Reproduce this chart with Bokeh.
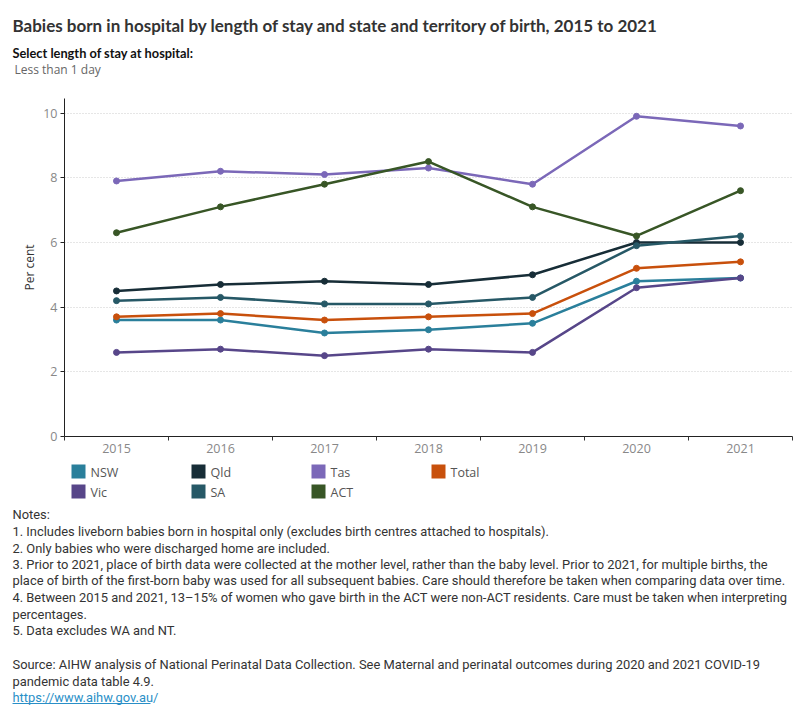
from bokeh.plotting import figure
from bokeh.layouts import column, row
from bokeh.models import Range1d, FixedTicker
from bokeh.core.properties import value
from bokeh.embed import file_html
from bokeh.resources import INLINE

years = [2015, 2016, 2017, 2018, 2019, 2020, 2021]
nsw = [3.6, 3.6, 3.2, 3.3, 3.5, 4.8, 4.9]
vic = [2.6, 2.7, 2.5, 2.7, 2.6, 4.6, 4.9]
qld = [4.5, 4.7, 4.8, 4.7, 5.0, 6.0, 6.0]
sa = [4.2, 4.3, 4.1, 4.1, 4.3, 5.9, 6.2]
tas = [7.9, 8.2, 8.1, 8.3, 7.8, 9.9, 9.6]
act = [6.3, 7.1, 7.8, 8.5, 7.1, 6.2, 7.6]
total = [3.7, 3.8, 3.6, 3.7, 3.8, 5.2, 5.4]
y_ticks = [0, 2, 4, 6, 8, 10]

series = [
    ("NSW", nsw, "#2a7f9b"),
    ("Vic", vic, "#574689"),
    ("Qld", qld, "#172d37"),
    ("SA", sa, "#265866"),
    ("Tas", tas, "#7b68b8"),
    ("ACT", act, "#385626"),
    ("Total", total, "#c8500c"),
]
colors = {n: c for n, _, c in series}
legend_rows = [["NSW", "Qld", "Tas", "Total"], ["Vic", "SA", "ACT"]]

title_text = "Babies born in hospital by length of stay and state and territory of birth, 2015 to 2021"
filter_label = "Select length of stay at hospital:"
filter_value = "Less than 1 day"
notes = [
    "Notes:",
    "1. Includes liveborn babies born in hospital only (excludes birth centres attached to hospitals).",
    "2. Only babies who were discharged home are included.",
    "3. Prior to 2021, place of birth data were collected at the mother level, rather than the baby level. Prior to 2021, for multiple births, the",
    "place of birth of the first-born baby was used for all subsequent babies. Care should therefore be taken when comparing data over time.",
    "4. Between 2015 and 2021, 13\u201315% of women who gave birth in the ACT were non-ACT residents. Care must be taken when interpreting",
    "percentages.",
    "5. Data excludes WA and NT.",
]
source = [
    "Source: AIHW analysis of National Perinatal Data Collection. See Maternal and perinatal outcomes during 2020 and 2021 COVID-19",
    "pandemic data table 4.9.",
]
link_text = "https://www.aihw.gov.au/"

W = 800
HEAD_H = 98
MAIN_H = 364
FOOT_H = 720 - HEAD_H - MAIN_H


def blank(h, y0):
    f = figure(width=W, height=h, output_backend="svg", toolbar_location=None,
               x_range=Range1d(0, W), y_range=Range1d(y0 + h, y0),
               x_axis_location=None, y_axis_location=None,
               min_border=0, min_border_left=0, min_border_right=0,
               min_border_top=0, min_border_bottom=0)
    f.grid.visible = False
    f.outline_line_color = None
    f.background_fill_color = "white"
    f.border_fill_color = "white"
    return f


def txt(f, s, x, y, size, color="#333333", font="Open Sans", style="normal"):
    f.text(x=[x], y=[y], text=[s], text_font=value(font), text_font_size=size,
           text_color=color, text_font_style=style, text_align="left",
           text_baseline="alphabetic")


# ---------- header ----------
head = blank(HEAD_H, 0)
txt(head, title_text, 12, 25, "17px", "#333333", "Lato", "bold")
txt(head, filter_label, 12, 52, "12.8px", "#111111", "Lato", "bold")
txt(head, filter_value, 14, 69, "12px", "#666666", "Open Sans")

# ---------- main chart ----------
p = figure(width=W, height=MAIN_H, output_backend="svg", toolbar_location=None,
           x_range=Range1d(2014.5, 2021.5), y_range=Range1d(0, 10.45),
           min_border_left=64, min_border_right=8, min_border_top=0,
           min_border_bottom=26)
p.outline_line_color = None
p.background_fill_color = "white"
p.border_fill_color = "white"

p.xaxis.ticker = FixedTicker(ticks=years, minor_ticks=[y - 0.5 for y in years] + [2021.5])
p.xaxis.major_tick_out = 0
p.xaxis.major_tick_in = 0
p.xaxis.minor_tick_out = 4
p.xaxis.minor_tick_in = 0
p.xaxis.minor_tick_line_color = "#333333"
p.xaxis.axis_line_color = "#222222"
p.xaxis.major_label_standoff = 3
p.xaxis.major_label_text_color = "#888888"
p.xaxis.major_label_text_font = "Open Sans"
p.xaxis.major_label_text_font_size = "12.5px"

p.yaxis.ticker = FixedTicker(ticks=y_ticks)
p.yaxis.minor_tick_line_color = None
p.yaxis.major_tick_out = 4
p.yaxis.major_tick_in = 0
p.yaxis.axis_line_color = "#222222"
p.yaxis.major_tick_line_color = "#222222"
p.yaxis.major_label_standoff = 3
p.yaxis.major_label_text_color = "#888888"
p.yaxis.major_label_text_font = "Open Sans"
p.yaxis.major_label_text_font_size = "12.5px"
p.yaxis.axis_label = "Per cent"
p.yaxis.axis_label_text_font = "Open Sans"
p.yaxis.axis_label_text_font_size = "12px"
p.yaxis.axis_label_text_font_style = "normal"
p.yaxis.axis_label_text_color = "#333333"
p.yaxis.axis_label_standoff = 2

p.xgrid.visible = False
p.ygrid.ticker = FixedTicker(ticks=[2, 4, 6, 8, 10])
p.ygrid.grid_line_color = "#cccccc"
p.ygrid.grid_line_dash = "1 2"

for name, vals, col in series:
    p.line(years, vals, line_color=col, line_width=2.5)
    p.scatter(years, vals, size=6, fill_color=col, line_color=col)

# ---------- footer: legend + notes ----------
y0 = HEAD_H + MAIN_H
foot = blank(FOOT_H, y0)
for r, lrow in enumerate(legend_rows):
    for c, name in enumerate(lrow):
        sx = 78 + 120 * c
        sy = 471 + 20 * r
        foot.rect(x=[sx], y=[sy], width=14, height=14, width_units="screen",
                  height_units="screen", fill_color=colors[name], line_color=None)
        txt(foot, name, sx + 12, sy + 1, "12.5px", "#555555", "Open Sans")

note_base = [514, 531, 548, 564, 580, 597, 614, 630]
for t, b in zip(notes, note_base):
    txt(foot, t, 12, b, "12.9px", "#333333", "Roboto")
for t, b in zip(source, [664, 681]):
    txt(foot, t, 12, b, "12.9px", "#333333", "Roboto")
txt(foot, link_text, 12, 697, "12.9px", "#2a8fc7", "Roboto")
foot.segment(x0=[12], y0=[703], x1=[150], y1=[703], line_color="#2a8fc7", line_width=1)

layout = column(row(head), row(p), row(foot), spacing=0)
open("out.html", "w").write(file_html(layout, INLINE))
